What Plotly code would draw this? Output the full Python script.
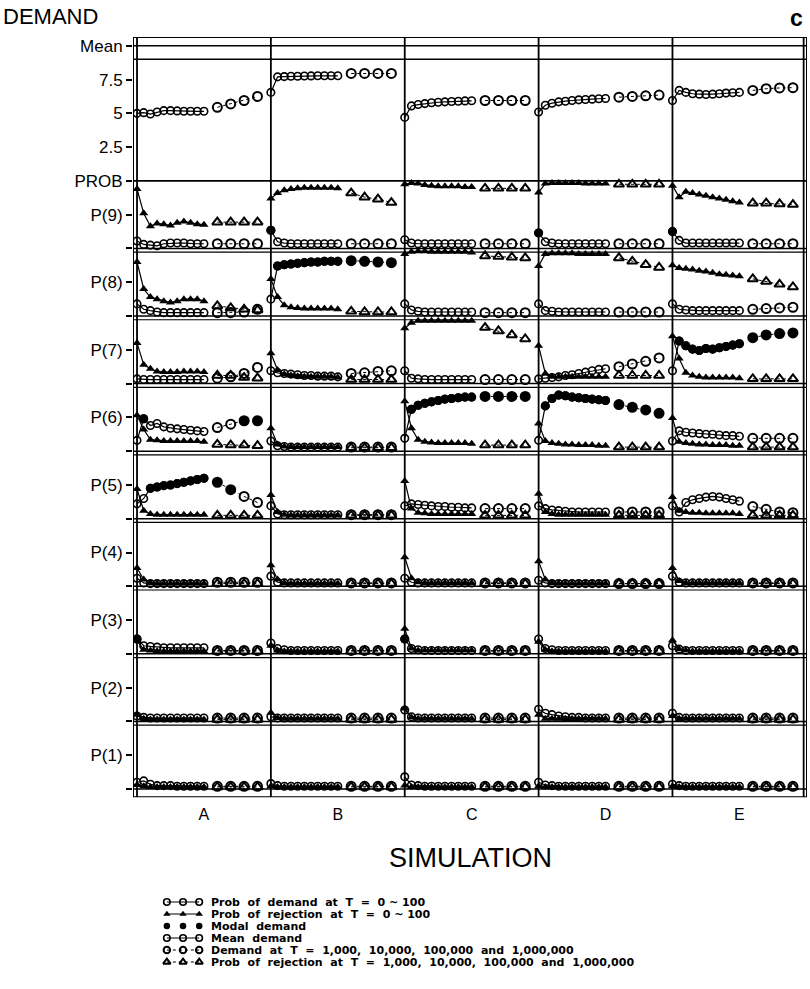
import math
import plotly.graph_objects as go

# ---------------- data ----------------
COLUMNS = ["A", "B", "C", "D", "E"]
T_DENSE = [0, 10, 20, 30, 40, 50, 60, 70, 80, 90, 100]
T_LATE = [1000, 10000, 100000, 1000000]
P_LABELS = ["P(1)", "P(2)", "P(3)", "P(4)", "P(5)", "P(6)", "P(7)", "P(8)", "P(9)"]
MEAN_TICKS = [0, 2.5, 5, 7.5, 10]
MEAN_TICK_TEXT = ["PROB", "2.5", "5", "7.5", "Mean"]

# mean demand (T = 0..100) and demand at T = 1e3..1e6
A_mean = [5.0, 5.05, 4.95, 5.1, 5.2, 5.2, 5.18, 5.15, 5.15, 5.15, 5.15]
A_mean_late = [5.45, 5.7, 5.95, 6.25]
B_mean = [6.55, 7.7, 7.72, 7.74, 7.75, 7.76, 7.77, 7.78, 7.78, 7.78, 7.78]
B_mean_late = [7.95, 7.95, 7.95, 7.95]
C_mean = [4.7, 5.55, 5.65, 5.72, 5.78, 5.82, 5.85, 5.88, 5.9, 5.92, 5.93]
C_mean_late = [5.95, 5.95, 5.95, 5.95]
D_mean = [5.1, 5.6, 5.75, 5.85, 5.9, 5.95, 6.0, 6.02, 6.05, 6.08, 6.1]
D_mean_late = [6.2, 6.25, 6.3, 6.35]
E_mean = [5.95, 6.7, 6.55, 6.45, 6.42, 6.4, 6.42, 6.45, 6.5, 6.52, 6.55]
E_mean_late = [6.7, 6.82, 6.88, 6.9]

# probabilities of demand / rejection, rows P(1) .. P(9)
A_dem = [
    [0.10, 0.12, 0.07, 0.05, 0.05, 0.05, 0.04, 0.04, 0.04, 0.04, 0.04],
    [0.08, 0.06, 0.05, 0.05, 0.05, 0.05, 0.05, 0.05, 0.05, 0.05, 0.05],
    [0.22, 0.12, 0.11, 0.10, 0.09, 0.09, 0.09, 0.09, 0.09, 0.09, 0.09],
    [0.12, 0.05, 0.04, 0.04, 0.04, 0.04, 0.04, 0.04, 0.04, 0.04, 0.04],
    [0.22, 0.30, 0.45, 0.47, 0.49, 0.50, 0.52, 0.54, 0.56, 0.58, 0.60],
    [0.16, 0.48, 0.38, 0.41, 0.36, 0.34, 0.33, 0.32, 0.31, 0.30, 0.29],
    [0.07, 0.06, 0.06, 0.06, 0.06, 0.06, 0.06, 0.06, 0.06, 0.06, 0.06],
    [0.18, 0.10, 0.08, 0.06, 0.05, 0.05, 0.05, 0.05, 0.05, 0.05, 0.05],
    [0.11, 0.06, 0.05, 0.04, 0.07, 0.08, 0.08, 0.08, 0.07, 0.07, 0.07],
]
A_rej = [
    [0.06, 0.04, 0.03, 0.03, 0.03, 0.03, 0.03, 0.03, 0.03, 0.03, 0.03],
    [0.10, 0.04, 0.03, 0.03, 0.03, 0.03, 0.03, 0.03, 0.03, 0.03, 0.03],
    [0.20, 0.06, 0.05, 0.04, 0.04, 0.04, 0.04, 0.04, 0.04, 0.04, 0.04],
    [0.27, 0.10, 0.05, 0.04, 0.04, 0.04, 0.04, 0.04, 0.04, 0.04, 0.04],
    [0.44, 0.12, 0.07, 0.06, 0.06, 0.06, 0.06, 0.06, 0.06, 0.06, 0.06],
    [0.53, 0.32, 0.17, 0.16, 0.15, 0.15, 0.15, 0.15, 0.15, 0.15, 0.14],
    [0.60, 0.28, 0.22, 0.18, 0.17, 0.17, 0.17, 0.18, 0.18, 0.18, 0.17],
    [0.80, 0.40, 0.28, 0.25, 0.22, 0.20, 0.22, 0.25, 0.25, 0.25, 0.22],
    [0.88, 0.52, 0.33, 0.37, 0.36, 0.34, 0.38, 0.40, 0.38, 0.36, 0.35],
]
A_dem_late = [
    [0.04, 0.04, 0.04, 0.04], [0.05, 0.05, 0.05, 0.05], [0.05, 0.05, 0.05, 0.05],
    [0.06, 0.06, 0.06, 0.06], [0.54, 0.43, 0.33, 0.24], [0.35, 0.40, 0.45, 0.45],
    [0.08, 0.10, 0.15, 0.24], [0.05, 0.05, 0.06, 0.10], [0.07, 0.07, 0.07, 0.07],
]
A_rej_late = [
    [0.03, 0.03, 0.03, 0.03], [0.03, 0.03, 0.03, 0.03], [0.04, 0.04, 0.04, 0.04],
    [0.04, 0.04, 0.04, 0.04], [0.05, 0.05, 0.05, 0.05], [0.10, 0.09, 0.09, 0.08],
    [0.12, 0.12, 0.09, 0.08], [0.15, 0.12, 0.10, 0.09], [0.39, 0.39, 0.39, 0.39],
]

B_dem = [
    [0.08, 0.05, 0.04, 0.04, 0.04, 0.04, 0.04, 0.04, 0.04, 0.04, 0.04],
    [0.07, 0.05, 0.05, 0.05, 0.05, 0.05, 0.05, 0.05, 0.05, 0.05, 0.05],
    [0.16, 0.08, 0.06, 0.05, 0.05, 0.05, 0.05, 0.05, 0.05, 0.05, 0.05],
    [0.15, 0.06, 0.05, 0.05, 0.05, 0.05, 0.05, 0.05, 0.05, 0.05, 0.05],
    [0.19, 0.07, 0.06, 0.06, 0.06, 0.06, 0.06, 0.06, 0.06, 0.06, 0.06],
    [0.15, 0.08, 0.07, 0.06, 0.06, 0.06, 0.06, 0.06, 0.06, 0.06, 0.06],
    [0.19, 0.16, 0.15, 0.14, 0.13, 0.12, 0.12, 0.11, 0.11, 0.11, 0.10],
    [0.25, 0.74, 0.76, 0.77, 0.78, 0.79, 0.80, 0.80, 0.81, 0.81, 0.81],
    [0.27, 0.10, 0.08, 0.07, 0.07, 0.07, 0.07, 0.07, 0.07, 0.07, 0.07],
]
B_rej = [
    [0.04, 0.03, 0.03, 0.03, 0.03, 0.03, 0.03, 0.03, 0.03, 0.03, 0.03],
    [0.13, 0.05, 0.04, 0.04, 0.04, 0.04, 0.04, 0.04, 0.04, 0.04, 0.04],
    [0.12, 0.05, 0.04, 0.04, 0.04, 0.04, 0.04, 0.04, 0.04, 0.04, 0.04],
    [0.31, 0.10, 0.05, 0.04, 0.04, 0.04, 0.04, 0.04, 0.04, 0.04, 0.04],
    [0.35, 0.10, 0.06, 0.05, 0.05, 0.05, 0.05, 0.05, 0.05, 0.05, 0.05],
    [0.34, 0.10, 0.07, 0.06, 0.06, 0.06, 0.06, 0.06, 0.06, 0.06, 0.06],
    [0.45, 0.20, 0.14, 0.12, 0.11, 0.10, 0.10, 0.10, 0.10, 0.10, 0.09],
    [0.55, 0.28, 0.16, 0.13, 0.12, 0.11, 0.11, 0.11, 0.11, 0.11, 0.10],
    [0.74, 0.82, 0.86, 0.88, 0.89, 0.90, 0.90, 0.90, 0.90, 0.90, 0.89],
]
B_dem_late = [
    [0.04, 0.04, 0.04, 0.04], [0.05, 0.05, 0.05, 0.05], [0.05, 0.05, 0.05, 0.05],
    [0.05, 0.05, 0.05, 0.05], [0.06, 0.06, 0.06, 0.06], [0.06, 0.06, 0.06, 0.06],
    [0.15, 0.16, 0.18, 0.19], [0.82, 0.81, 0.80, 0.79], [0.07, 0.07, 0.07, 0.07],
]
B_rej_late = [
    [0.03, 0.03, 0.03, 0.03], [0.03, 0.03, 0.03, 0.03], [0.04, 0.04, 0.04, 0.04],
    [0.04, 0.04, 0.04, 0.04], [0.05, 0.05, 0.05, 0.05], [0.05, 0.05, 0.05, 0.05],
    [0.06, 0.06, 0.06, 0.06], [0.07, 0.06, 0.06, 0.06], [0.82, 0.76, 0.73, 0.68],
]

C_dem = [
    [0.18, 0.06, 0.05, 0.04, 0.04, 0.04, 0.04, 0.04, 0.04, 0.04, 0.04],
    [0.17, 0.07, 0.05, 0.05, 0.05, 0.05, 0.05, 0.05, 0.05, 0.05, 0.05],
    [0.22, 0.08, 0.06, 0.05, 0.05, 0.05, 0.05, 0.05, 0.05, 0.05, 0.05],
    [0.12, 0.06, 0.05, 0.05, 0.05, 0.05, 0.05, 0.05, 0.05, 0.05, 0.05],
    [0.19, 0.22, 0.21, 0.20, 0.19, 0.18, 0.18, 0.17, 0.17, 0.16, 0.16],
    [0.19, 0.62, 0.68, 0.71, 0.73, 0.75, 0.77, 0.78, 0.79, 0.80, 0.80],
    [0.19, 0.08, 0.07, 0.06, 0.06, 0.06, 0.06, 0.06, 0.06, 0.06, 0.06],
    [0.18, 0.09, 0.07, 0.06, 0.06, 0.06, 0.06, 0.06, 0.06, 0.06, 0.06],
    [0.13, 0.08, 0.07, 0.07, 0.07, 0.07, 0.07, 0.07, 0.07, 0.07, 0.07],
]
C_rej = [
    [0.05, 0.03, 0.03, 0.03, 0.03, 0.03, 0.03, 0.03, 0.03, 0.03, 0.03],
    [0.19, 0.06, 0.04, 0.04, 0.04, 0.04, 0.04, 0.04, 0.04, 0.04, 0.04],
    [0.37, 0.08, 0.05, 0.05, 0.05, 0.05, 0.05, 0.05, 0.05, 0.05, 0.05],
    [0.43, 0.12, 0.06, 0.05, 0.05, 0.05, 0.05, 0.05, 0.05, 0.05, 0.05],
    [0.56, 0.15, 0.09, 0.08, 0.07, 0.07, 0.07, 0.07, 0.07, 0.07, 0.07],
    [0.74, 0.34, 0.17, 0.14, 0.13, 0.12, 0.12, 0.12, 0.12, 0.12, 0.11],
    [0.82, 0.90, 0.93, 0.93, 0.93, 0.93, 0.93, 0.93, 0.93, 0.93, 0.93],
    [0.92, 0.95, 0.96, 0.96, 0.95, 0.95, 0.95, 0.95, 0.95, 0.95, 0.94],
    [0.95, 0.97, 0.96, 0.94, 0.93, 0.92, 0.92, 0.92, 0.92, 0.91, 0.91],
]
C_dem_late = [
    [0.04, 0.04, 0.04, 0.04], [0.05, 0.05, 0.05, 0.05], [0.05, 0.05, 0.05, 0.05],
    [0.05, 0.05, 0.05, 0.05], [0.15, 0.15, 0.15, 0.15], [0.81, 0.81, 0.81, 0.81],
    [0.06, 0.06, 0.06, 0.06], [0.05, 0.05, 0.05, 0.05], [0.07, 0.07, 0.07, 0.07],
]
C_rej_late = [
    [0.03, 0.03, 0.03, 0.03], [0.03, 0.03, 0.03, 0.03], [0.04, 0.04, 0.04, 0.04],
    [0.04, 0.04, 0.04, 0.04], [0.05, 0.05, 0.05, 0.05], [0.09, 0.09, 0.09, 0.09],
    [0.83, 0.78, 0.72, 0.66], [0.89, 0.88, 0.87, 0.86], [0.89, 0.89, 0.89, 0.89],
]

D_dem = [
    [0.10, 0.06, 0.05, 0.04, 0.04, 0.04, 0.04, 0.04, 0.04, 0.04, 0.04],
    [0.18, 0.12, 0.10, 0.08, 0.07, 0.06, 0.06, 0.05, 0.05, 0.05, 0.05],
    [0.22, 0.08, 0.06, 0.05, 0.05, 0.05, 0.05, 0.05, 0.05, 0.05, 0.05],
    [0.09, 0.05, 0.04, 0.04, 0.04, 0.04, 0.04, 0.04, 0.04, 0.04, 0.04],
    [0.19, 0.15, 0.13, 0.12, 0.11, 0.10, 0.10, 0.10, 0.10, 0.10, 0.10],
    [0.16, 0.67, 0.78, 0.83, 0.82, 0.80, 0.79, 0.78, 0.77, 0.76, 0.75],
    [0.07, 0.08, 0.09, 0.10, 0.12, 0.13, 0.15, 0.17, 0.19, 0.21, 0.22],
    [0.18, 0.08, 0.07, 0.06, 0.06, 0.06, 0.06, 0.06, 0.06, 0.06, 0.06],
    [0.23, 0.10, 0.08, 0.07, 0.07, 0.07, 0.07, 0.07, 0.07, 0.07, 0.07],
]
D_rej = [
    [0.04, 0.03, 0.03, 0.03, 0.03, 0.03, 0.03, 0.03, 0.03, 0.03, 0.03],
    [0.10, 0.04, 0.04, 0.04, 0.04, 0.04, 0.04, 0.04, 0.04, 0.04, 0.04],
    [0.18, 0.06, 0.04, 0.04, 0.04, 0.04, 0.04, 0.04, 0.04, 0.04, 0.04],
    [0.37, 0.10, 0.05, 0.04, 0.04, 0.04, 0.04, 0.04, 0.04, 0.04, 0.04],
    [0.37, 0.10, 0.07, 0.06, 0.06, 0.06, 0.06, 0.06, 0.06, 0.06, 0.06],
    [0.41, 0.15, 0.12, 0.11, 0.10, 0.10, 0.09, 0.09, 0.09, 0.08, 0.08],
    [0.56, 0.15, 0.10, 0.10, 0.10, 0.10, 0.10, 0.10, 0.10, 0.10, 0.10],
    [0.74, 0.92, 0.93, 0.93, 0.93, 0.93, 0.92, 0.92, 0.92, 0.92, 0.92],
    [0.83, 0.96, 0.97, 0.97, 0.97, 0.97, 0.97, 0.96, 0.96, 0.96, 0.96],
]
D_dem_late = [
    [0.04, 0.04, 0.04, 0.04], [0.05, 0.05, 0.05, 0.05], [0.05, 0.05, 0.05, 0.05],
    [0.04, 0.04, 0.04, 0.04], [0.10, 0.10, 0.10, 0.10], [0.69, 0.65, 0.61, 0.56],
    [0.25, 0.29, 0.33, 0.38], [0.06, 0.06, 0.06, 0.06], [0.07, 0.07, 0.07, 0.07],
]
D_rej_late = [
    [0.03, 0.03, 0.03, 0.03], [0.03, 0.03, 0.03, 0.03], [0.04, 0.04, 0.04, 0.04],
    [0.04, 0.04, 0.04, 0.04], [0.05, 0.05, 0.05, 0.05], [0.06, 0.06, 0.06, 0.06],
    [0.12, 0.12, 0.12, 0.12], [0.86, 0.81, 0.76, 0.72], [0.95, 0.95, 0.95, 0.95],
]

E_dem = [
    [0.07, 0.05, 0.04, 0.04, 0.04, 0.04, 0.04, 0.04, 0.04, 0.04, 0.04],
    [0.12, 0.06, 0.05, 0.05, 0.05, 0.05, 0.05, 0.05, 0.05, 0.05, 0.05],
    [0.12, 0.07, 0.05, 0.05, 0.05, 0.05, 0.05, 0.05, 0.05, 0.05, 0.05],
    [0.15, 0.06, 0.05, 0.05, 0.05, 0.05, 0.05, 0.05, 0.05, 0.05, 0.05],
    [0.19, 0.10, 0.24, 0.28, 0.30, 0.32, 0.33, 0.32, 0.30, 0.28, 0.26],
    [0.15, 0.30, 0.28, 0.27, 0.26, 0.25, 0.25, 0.24, 0.23, 0.23, 0.22],
    [0.19, 0.63, 0.56, 0.51, 0.49, 0.52, 0.51, 0.53, 0.55, 0.57, 0.59],
    [0.18, 0.10, 0.09, 0.08, 0.08, 0.08, 0.08, 0.08, 0.08, 0.08, 0.08],
    [0.25, 0.12, 0.08, 0.08, 0.08, 0.08, 0.08, 0.08, 0.08, 0.08, 0.08],
]
E_rej = [
    [0.04, 0.03, 0.03, 0.03, 0.03, 0.03, 0.03, 0.03, 0.03, 0.03, 0.03],
    [0.08, 0.04, 0.04, 0.04, 0.04, 0.04, 0.04, 0.04, 0.04, 0.04, 0.04],
    [0.20, 0.07, 0.05, 0.04, 0.04, 0.04, 0.04, 0.04, 0.04, 0.04, 0.04],
    [0.27, 0.08, 0.05, 0.05, 0.05, 0.05, 0.05, 0.05, 0.05, 0.05, 0.05],
    [0.32, 0.12, 0.10, 0.09, 0.09, 0.08, 0.08, 0.08, 0.08, 0.08, 0.07],
    [0.49, 0.14, 0.12, 0.11, 0.10, 0.10, 0.09, 0.09, 0.09, 0.08, 0.08],
    [0.70, 0.37, 0.16, 0.12, 0.10, 0.09, 0.09, 0.09, 0.09, 0.09, 0.08],
    [0.75, 0.71, 0.70, 0.69, 0.67, 0.66, 0.64, 0.62, 0.61, 0.60, 0.59],
    [0.93, 0.76, 0.84, 0.82, 0.80, 0.78, 0.76, 0.74, 0.72, 0.70, 0.68],
]
E_dem_late = [
    [0.04, 0.04, 0.04, 0.04], [0.05, 0.05, 0.05, 0.05], [0.05, 0.05, 0.05, 0.05],
    [0.05, 0.05, 0.05, 0.05], [0.18, 0.14, 0.10, 0.09], [0.19, 0.19, 0.19, 0.19],
    [0.68, 0.72, 0.74, 0.75], [0.10, 0.11, 0.12, 0.13], [0.07, 0.07, 0.07, 0.07],
]
E_rej_late = [
    [0.03, 0.03, 0.03, 0.03], [0.03, 0.03, 0.03, 0.03], [0.04, 0.04, 0.04, 0.04],
    [0.04, 0.04, 0.04, 0.04], [0.05, 0.05, 0.05, 0.05], [0.06, 0.06, 0.06, 0.06],
    [0.07, 0.07, 0.07, 0.07], [0.55, 0.51, 0.47, 0.43], [0.67, 0.67, 0.66, 0.65],
]

LEGEND_TEXT = [
    "Prob  of  demand  at  T  =  0 ~ 100",
    "Prob  of  rejection  at  T  =  0 ~ 100",
    "Modal  demand",
    "Mean  demand",
    "Demand  at  T  =  1,000,  10,000,  100,000  and  1,000,000",
    "Prob  of  rejection  at  T  =  1,000,  10,000,  100,000  and  1,000,000",
]

# ---------------- assembly ----------------
MEANS = {"A": (A_mean, A_mean_late), "B": (B_mean, B_mean_late), "C": (C_mean, C_mean_late),
         "D": (D_mean, D_mean_late), "E": (E_mean, E_mean_late)}
PROBS = {"A": (A_dem, A_rej, A_dem_late, A_rej_late), "B": (B_dem, B_rej, B_dem_late, B_rej_late),
         "C": (C_dem, C_rej, C_dem_late, C_rej_late), "D": (D_dem, D_rej, D_dem_late, D_rej_late),
         "E": (E_dem, E_rej, E_dem_late, E_rej_late)}

MEAN_SCALE = 0.2   # mean-demand units -> panel units (mean panel sits above P(9))
MEAN_BASE = 9.0


def xpos(ci, t):
    if t <= 100:
        return ci + t / 200.0
    return ci + 0.3 + 0.1 * math.log10(t)


def add_seg(xs, ys, xv, yv):
    xs.extend(xv + [None])
    ys.extend(yv + [None])


dd_x, dd_y, dr_x, dr_y = [], [], [], []
ld_x, ld_y, lr_x, lr_y = [], [], [], []
md_x, md_y, ml_x, ml_y = [], [], [], []
mo_x, mo_y = [], []

for ci, col in enumerate(COLUMNS):
    dem, rej, dem_l, rej_l = PROBS[col]
    xd = [xpos(ci, t) for t in T_DENSE]
    xl = [xpos(ci, t) for t in T_LATE]
    for k in range(9):
        add_seg(dd_x, dd_y, xd, [k + p for p in dem[k]])
        add_seg(dr_x, dr_y, xd, [k + p for p in rej[k]])
        add_seg(ld_x, ld_y, xl, [k + p for p in dem_l[k]])
        add_seg(lr_x, lr_y, xl, [k + p for p in rej_l[k]])
    # modal demand: the demand level with the largest probability at each time
    for j in range(len(T_DENSE)):
        kk = max(range(9), key=lambda k: dem[k][j])
        mo_x.append(xd[j]); mo_y.append(kk + dem[kk][j])
    for j in range(len(T_LATE)):
        kk = max(range(9), key=lambda k: dem_l[k][j])
        mo_x.append(xl[j]); mo_y.append(kk + dem_l[kk][j])
    m, ml = MEANS[col]
    add_seg(md_x, md_y, xd, [MEAN_BASE + MEAN_SCALE * v for v in m])
    add_seg(ml_x, ml_y, xl, [MEAN_BASE + MEAN_SCALE * v for v in ml])

BLACK = "black"
FONT = "Liberation Sans, Arial, Helvetica, sans-serif"
LEG_FONT = "DejaVu Sans, Liberation Sans, sans-serif"

fig = go.Figure()

STYLE = {
    "dem": dict(mode="lines+markers", line=dict(color=BLACK, width=1.2),
                marker=dict(symbol="circle-open", size=7.5, color=BLACK, line=dict(width=1.6))),
    "rej": dict(mode="lines+markers", line=dict(color=BLACK, width=1.2),
                marker=dict(symbol="triangle-up", size=8, color=BLACK)),
    "mode": dict(mode="markers", marker=dict(symbol="circle", size=9, color=BLACK)),
    "mean": dict(mode="lines+markers", line=dict(color=BLACK, width=1.2),
                 marker=dict(symbol="circle-open", size=7.5, color=BLACK, line=dict(width=1.6))),
    "ldem": dict(mode="lines+markers", line=dict(color=BLACK, width=1, dash="dot"),
                 marker=dict(symbol="circle-open", size=9, color=BLACK, line=dict(width=2))),
    "lrej": dict(mode="lines+markers", line=dict(color=BLACK, width=1, dash="dot"),
                 marker=dict(symbol="triangle-up-open", size=9, color=BLACK, line=dict(width=2))),
}

fig.add_trace(go.Scatter(x=dd_x, y=dd_y, connectgaps=False, **STYLE["dem"]))
fig.add_trace(go.Scatter(x=dr_x, y=dr_y, connectgaps=False, **STYLE["rej"]))
fig.add_trace(go.Scatter(x=ld_x, y=ld_y, connectgaps=False, **STYLE["ldem"]))
fig.add_trace(go.Scatter(x=lr_x, y=lr_y, connectgaps=False, **STYLE["lrej"]))
fig.add_trace(go.Scatter(x=md_x, y=md_y, connectgaps=False, **STYLE["mean"]))
fig.add_trace(go.Scatter(x=ml_x, y=ml_y, connectgaps=False, **STYLE["ldem"]))
fig.add_trace(go.Scatter(x=mo_x, y=mo_y, **STYLE["mode"]))

# ---------------- geometry (body margin removed, so page pixels = figure pixels) ----------------
W, H = 810, 989
ML, MT, MB = 133, 37, 2
MR = W - 806.7
plot_h = H - MT - MB
plot_w = W - ML - MR


def py(pix):  # pixel row -> paper y
    return (H - MB - pix) / plot_h


def px(pix):  # pixel column -> paper x
    return (pix - ML) / plot_w


# legend samples on their own small axes, labels as paper annotations
LEG_KEYS = ["dem", "rej", "mode", "mean", "ldem", "lrej"]
LEG_TOP, LEG_STEP = 902, 12
for i, key in enumerate(LEG_KEYS):
    st = dict(STYLE[key])
    st["marker"] = dict(st["marker"], size=6.5)
    fig.add_trace(go.Scatter(x=[0, 1, 2], y=[i, i, i], xaxis="x2", yaxis="y2", **st))
    fig.add_annotation(x=px(209), y=py(LEG_TOP + LEG_STEP * i), xref="paper", yref="paper",
                       text="<b>" + LEGEND_TEXT[i] + "</b>", showarrow=False,
                       xanchor="left", yanchor="middle",
                       font=dict(family=LEG_FONT, size=11, color=BLACK))

# frame & panel lines
X0, X1 = -0.03, 5.005
Y0, Y1 = -0.123, 11.13
shapes = [dict(type="rect", x0=X0, x1=X1, y0=Y0, y1=Y1, line=dict(color=BLACK, width=2))]
for xv in [0, 1, 2, 3, 4, 4.98]:
    shapes.append(dict(type="line", x0=xv, x1=xv, y0=Y0, y1=Y1, line=dict(color=BLACK, width=1.8)))
for yv in range(0, 9):
    shapes.append(dict(type="line", x0=X0, x1=X1, y0=yv, y1=yv, line=dict(color=BLACK, width=1.5)))
    if yv > 0:
        shapes.append(dict(type="line", x0=X0, x1=X1, y0=yv - 0.055, y1=yv - 0.055,
                           line=dict(color=BLACK, width=1.2)))
for yv in [MEAN_BASE, MEAN_BASE + MEAN_SCALE * 9, MEAN_BASE + MEAN_SCALE * 10]:
    shapes.append(dict(type="line", x0=X0, x1=X1, y0=yv, y1=yv, line=dict(color=BLACK, width=1.6)))
for s in shapes:
    s.update(xref="x", yref="y", layer="below")

tickvals, ticktext = [], []
for k in range(9):
    tickvals += [k, k + 0.5]
    ticktext += ["", P_LABELS[k]]
for v, t in zip(MEAN_TICKS, MEAN_TICK_TEXT):
    tickvals.append(MEAN_BASE + MEAN_SCALE * v)
    ticktext.append(t)

fig.update_layout(
    width=W, height=H, margin=dict(l=ML, r=MR, t=MT, b=MB, autoexpand=False),
    paper_bgcolor="white", plot_bgcolor="white", showlegend=False,
    font=dict(family=FONT, color=BLACK),
    shapes=shapes,
    xaxis=dict(range=[X0, X1], domain=[0, 1], showgrid=False, zeroline=False, showline=False,
               tickvals=[i + 0.5 for i in range(5)], ticktext=COLUMNS, ticks="",
               tickfont=dict(family=FONT, size=16, color=BLACK), ticklabelstandoff=6),
    yaxis=dict(range=[Y0, Y1], domain=[py(797.3), 1], showgrid=False, zeroline=False,
               showline=False, tickvals=tickvals, ticktext=ticktext, ticks="outside",
               ticklen=6, tickwidth=1.5, tickcolor=BLACK,
               tickfont=dict(family=FONT, size=17, color=BLACK)),
    xaxis2=dict(domain=[px(162), px(204)], range=[-0.3, 2.3], anchor="y2", visible=False),
    yaxis2=dict(domain=[py(LEG_TOP + LEG_STEP * 5.5), py(LEG_TOP - LEG_STEP * 0.5)],
                range=[5.5, -0.5], anchor="x2", visible=False),
)

fig.add_annotation(x=px(1), y=py(16), xref="paper", yref="paper", text="DEMAND", showarrow=False,
                   xanchor="left", yanchor="middle", font=dict(family=FONT, size=22, color=BLACK))
fig.add_annotation(x=px(796), y=py(18), xref="paper", yref="paper", text="<b>c</b>", showarrow=False,
                   xanchor="center", yanchor="middle", font=dict(family=FONT, size=23, color=BLACK))
fig.add_annotation(x=px(470), y=py(858), xref="paper", yref="paper", text="SIMULATION", showarrow=False,
                   xanchor="center", yanchor="middle", font=dict(family=FONT, size=27, color=BLACK))

fig.write_html("out.html", config={"displayModeBar": False},
               post_script="document.body.style.margin='0';")
